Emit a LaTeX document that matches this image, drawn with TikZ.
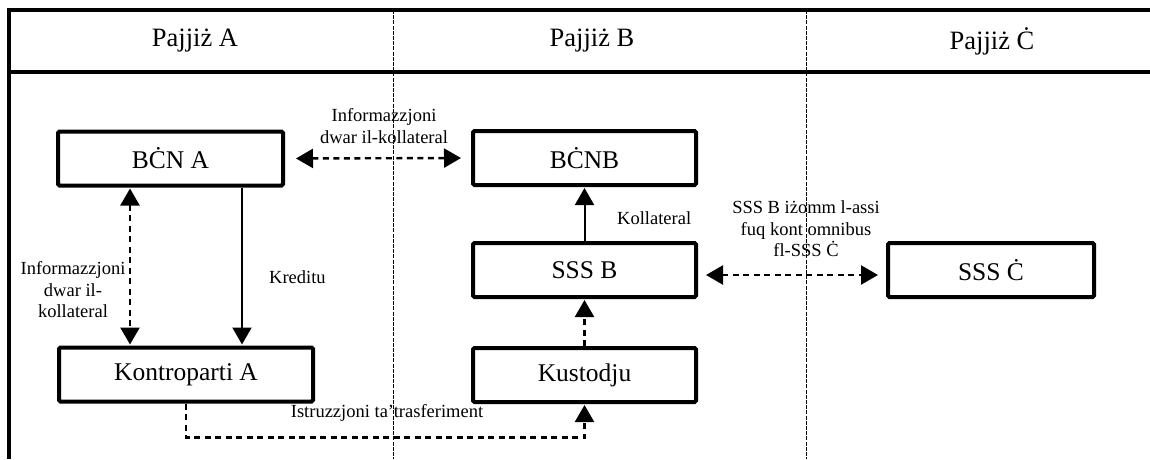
\documentclass[tikz,border=0pt]{standalone}
\usepackage{fontspec}
\setmainfont{Liberation Serif}
\usetikzlibrary{arrows.meta}

\begin{document}
\begin{tikzpicture}[x=1pt, y=-1pt, >={Triangle[length=17pt,width=19pt]},
    box/.style={draw, line width=4pt, rounded corners=1.5pt, minimum height=54pt, inner sep=0pt, font=\fontsize{25.5}{30}\selectfont},
    hdr/.style={font=\fontsize{26.5}{30}\selectfont},
    lbl/.style={align=center, inner sep=0pt, font=\fontsize{18.5}{21.5}\selectfont},
    dasharrow/.style={line width=2.4pt, dash pattern=on 6pt off 4.5pt},
    solidarrow/.style={line width=2pt, ->},
    frame/.style={line width=3.6pt},
    divider/.style={line width=0.8pt, dash pattern=on 4pt off 1.2pt}]
  \useasboundingbox (0,0) rectangle (1150,459);
  % frame and country columns
  \draw[frame] (9,459) -- (9,10) -- (1150,10);
  \draw[frame] (9,72) -- (1150,72);
  \draw[divider] (393,10) -- (393,459);
  \draw[divider] (806,10) -- (806,459);
  \node[hdr] (hdrA) at (195,41) {Pajjiż A};
  \node[hdr] (hdrB) at (592,41) {Pajjiż B};
  \node[hdr] (hdrC) at (992,41) {Pajjiż Ċ};
  % boxes
  \node[box, minimum width=225pt] (bcnA) at (170.5,158.5) {BĊN A};
  \node[box, minimum width=223pt] (bcnB) at (584.5,158) {BĊNB};
  \node[box, minimum width=223pt] (sssB) at (584.5,270) {SSS B};
  \node[box, minimum width=206pt] (sssC) at (991,270) {SSS Ċ};
  \node[box, minimum width=254pt] (kontA) at (186,374.5) {Kontroparti A};
  \node[box, minimum width=223pt] (kust) at (584.5,375) {Kustodju};
  \coordinate (xInfo) at (130,0);
  \coordinate (xKred) at (242,0);
  % connectors
  \draw[dasharrow, <->, shorten <=11pt, shorten >=10pt] (bcnA.east) -- (bcnB.west);
  \draw[dasharrow, <->, shorten <=1pt, shorten >=1pt] (bcnA.south -| xInfo) -- (kontA.north -| xInfo);
  \draw[solidarrow, shorten >=1pt] (bcnA.south -| xKred) -- (kontA.north -| xKred);
  \draw[solidarrow, shorten >=1pt] (sssB.north) -- (bcnB.south);
  \draw[dasharrow, <->, shorten <=8pt, shorten >=8pt] ([yshift=-5pt]sssB.east) -- ([yshift=-5pt]sssC.west);
  \draw[dasharrow, ->, shorten >=1pt] (kust.north) -- (sssB.south);
  \draw[dasharrow, ->, shorten >=1pt] (kontA.south) -- ++(0,34) -| (kust.south);
  % labels
  \node[lbl] (lblInfoTop) at (384,126) {Informazzjoni\\dwar il-kollateral};
  \node[lbl] (lblInfoLeft) at (73,290) {Informazzjoni\\dwar il-\\kollateral};
  \node[lbl, anchor=west] (lblKred) at (269,277) {Kreditu};
  \node[lbl, anchor=west] (lblKoll) at (617,218) {Kollateral};
  \node[lbl] (lblOmni) at (806,229) {SSS B iżomm l-assi\\fuq kont omnibus\\fl-SSS Ċ};
  \node[lbl] (lblIstr) at (387,413) {Istruzzjoni ta'trasferiment};
\end{tikzpicture}
\end{document}
